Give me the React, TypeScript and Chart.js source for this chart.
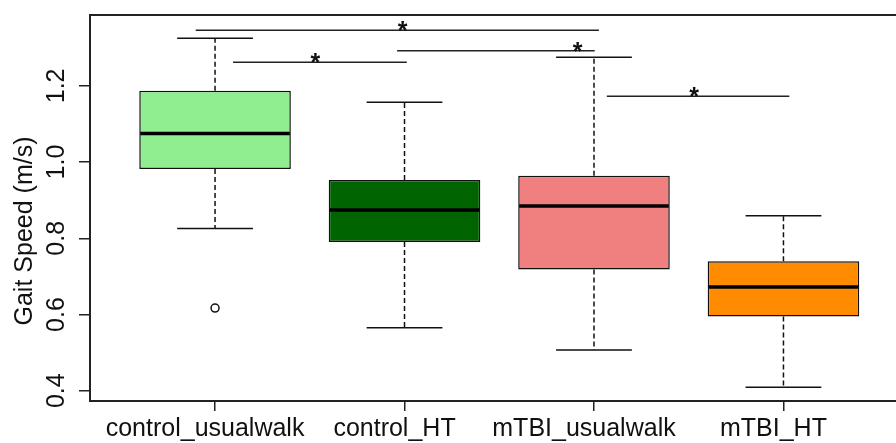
import { useEffect, useRef } from "react";
import { Chart, registerables } from "chart.js";

Chart.register(...registerables);

// ---- data ----
const categories = ["control_usualwalk", "control_HT", "mTBI_usualwalk", "mTBI_HT"];
const whiskerLow = [0.826, 0.565, 0.507, 0.409];
const q1 = [0.982, 0.79, 0.718, 0.595];
const median = [1.075, 0.874, 0.885, 0.672];
const q3 = [1.187, 0.953, 0.964, 0.74];
const whiskerHigh = [1.325, 1.157, 1.275, 0.859];
const boxColors = ["#90EE90", "#006400", "#F08080", "#FF8C00"];
const outlierGroup = [1];
const outlierValue = [0.617];
const yTicks = [0.4, 0.6, 0.8, 1.0, 1.2];
const yTickLabels = ["0.4", "0.6", "0.8", "1.0", "1.2"];
const sigStart = [0.898, 1.095, 1.961, 3.068];
const sigEnd = [3.026, 2.012, 3.004, 4.031];
const sigLevel = [1.346, 1.262, 1.292, 1.173];
const sigStarPos = [1.99, 1.53, 2.913, 3.529];
const sigLabel = ["*", "*", "*", "*"];
const yTitle = "Gait Speed (m/s)";

const FONT = '"Liberation Sans", Arial, sans-serif';

const boxExtras = {
  id: "boxExtras",
  afterDatasetsDraw(chart: any) {
    const { ctx, chartArea, scales } = chart;
    const x = scales.x;
    const y = scales.y;
    const unit = x.getPixelForValue(2) - x.getPixelForValue(1);
    const line = (x1: number, y1: number, x2: number, y2: number) => {
      ctx.beginPath();
      ctx.moveTo(x1, y1);
      ctx.lineTo(x2, y2);
      ctx.stroke();
    };
    ctx.save();
    for (let i = 0; i < categories.length; i++) {
      const cx = x.getPixelForValue(i + 1);
      ctx.strokeStyle = "#111";
      ctx.lineWidth = 1.5;
      ctx.setLineDash([5, 3]);
      line(cx, y.getPixelForValue(q3[i]), cx, y.getPixelForValue(whiskerHigh[i]));
      line(cx, y.getPixelForValue(q1[i]), cx, y.getPixelForValue(whiskerLow[i]));
      ctx.setLineDash([]);
      const half = unit * 0.2;
      const yh = y.getPixelForValue(whiskerHigh[i]);
      const yl = y.getPixelForValue(whiskerLow[i]);
      line(cx - half, yh, cx + half, yh);
      line(cx - half, yl, cx + half, yl);
      ctx.lineWidth = 3.5;
      ctx.strokeStyle = "#000";
      const ym = y.getPixelForValue(median[i]);
      line(cx - unit * 0.4 + 1, ym, cx + unit * 0.4 - 1, ym);
    }
    // significance bars
    ctx.lineWidth = 1.5;
    ctx.strokeStyle = "#222";
    ctx.fillStyle = "#111";
    ctx.font = `bold 25px ${FONT}`;
    ctx.textAlign = "center";
    ctx.textBaseline = "alphabetic";
    for (let k = 0; k < sigLevel.length; k++) {
      const yy = y.getPixelForValue(sigLevel[k]);
      line(x.getPixelForValue(sigStart[k]), yy, x.getPixelForValue(sigEnd[k]), yy);
      ctx.fillText(sigLabel[k], x.getPixelForValue(sigStarPos[k]), yy + 9);
    }
    // top frame line
    ctx.lineWidth = 2;
    ctx.strokeStyle = "#222";
    line(chartArea.left, chartArea.top, chartArea.right, chartArea.top);
    ctx.restore();
  },
  afterDraw(chart: any) {
    const { ctx, scales } = chart;
    const y = scales.y;
    ctx.save();
    ctx.fillStyle = "#111";
    ctx.font = `25px ${FONT}`;
    ctx.textAlign = "center";
    ctx.textBaseline = "middle";
    for (let i = 0; i < yTicks.length; i++) {
      ctx.save();
      ctx.translate(57, y.getPixelForValue(yTicks[i]));
      ctx.rotate(-Math.PI / 2);
      ctx.fillText(yTickLabels[i], 0, 0);
      ctx.restore();
    }
    ctx.save();
    ctx.translate(25, 231);
    ctx.rotate(-Math.PI / 2);
    ctx.fillText(yTitle, 0, 0);
    ctx.restore();
    ctx.restore();
  },
};

export default function App() {
  const ref = useRef<HTMLCanvasElement>(null);
  useEffect(() => {
    const chart = new Chart(ref.current as HTMLCanvasElement, {
      type: "bar",
      data: {
        datasets: [
          {
            type: "bar",
            data: categories.map((_, i) => ({ x: i + 1, y: [q1[i], q3[i]] })) as any,
            backgroundColor: boxColors,
            borderColor: "#111",
            borderWidth: 1.5,
            borderSkipped: false,
            barPercentage: 0.8,
            categoryPercentage: 1,
          },
          {
            type: "scatter",
            data: outlierGroup.map((g, k) => ({ x: g, y: outlierValue[k] })),
            pointStyle: "circle",
            pointRadius: 4,
            borderColor: "#111",
            borderWidth: 1.5,
            backgroundColor: "rgba(0,0,0,0)",
          } as any,
        ],
      },
      options: {
        responsive: false,
        animation: false,
        devicePixelRatio: 1,
        layout: { autoPadding: false, padding: { top: 15, left: 0, right: 0, bottom: 0 } },
        plugins: { legend: { display: false }, tooltip: { enabled: false } },
        scales: {
          x: {
            type: "linear",
            min: 0.34,
            max: 4.594,
            offset: false,
            afterBuildTicks: (s: any) => {
              s.ticks = categories.map((_, i) => ({ value: i + 1 }));
            },
            afterFit: (s: any) => {
              s.height = 42;
            },
            ticks: {
              autoSkip: false,
              minRotation: 0,
              maxRotation: 0,
              padding: 3,
              labelOffset: -10,
              color: "#111",
              font: { family: FONT, size: 25 },
              callback: (v: any) => categories[Math.round(Number(v)) - 1] ?? "",
            },
            grid: {
              offset: false,
              drawOnChartArea: false,
              drawTicks: true,
              tickLength: 10,
              color: "#222",
              lineWidth: 1.5,
            },
            border: { display: true, color: "#222", width: 2 },
          },
          y: {
            type: "linear",
            min: 0.373,
            max: 1.386,
            afterBuildTicks: (s: any) => {
              s.ticks = yTicks.map((v) => ({ value: v }));
            },
            afterFit: (s: any) => {
              s.width = 90;
            },
            ticks: { display: false },
            grid: {
              drawOnChartArea: false,
              drawTicks: true,
              tickLength: 11,
              color: "#222",
              lineWidth: 1.5,
            },
            border: { display: true, color: "#222", width: 2 },
          },
        },
      },
      plugins: [boxExtras],
    } as any);
    return () => chart.destroy();
  }, []);
  return (
    <div style={{ position: "fixed", left: 0, top: 0, width: 896, height: 443, background: "#fff" }}>
      <canvas ref={ref} width={896} height={443} style={{ display: "block", width: 896, height: 443 }} />
    </div>
  );
}
